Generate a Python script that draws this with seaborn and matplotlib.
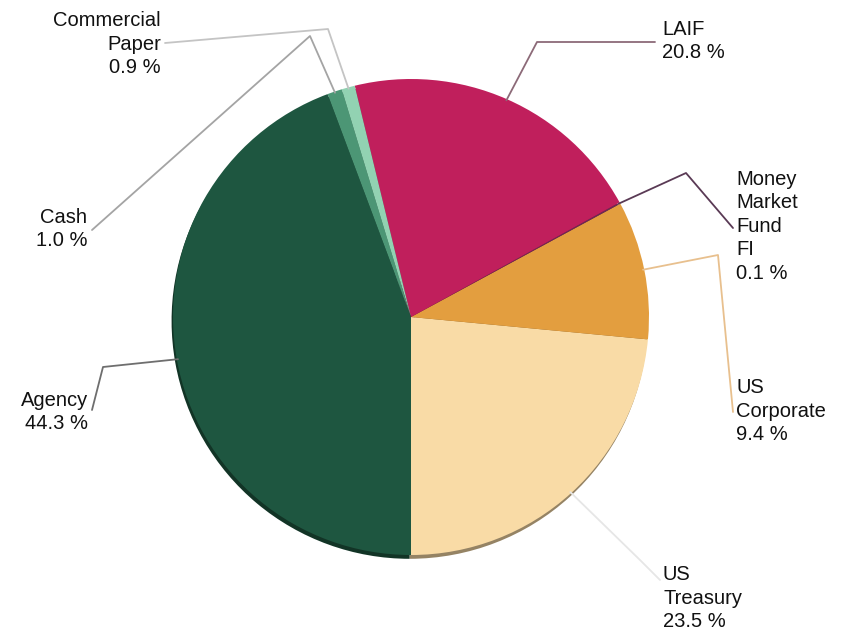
import numpy as np
import matplotlib
matplotlib.use("Agg")
import matplotlib.pyplot as plt
import matplotlib.colors as mcolors
import seaborn as sns

# Portfolio holdings by asset type (percent of total)
categories = ["US\nTreasury", "US\nCorporate", "Money\nMarket\nFund\nFI", "LAIF",
              "Commercial\nPaper", "Cash", "Agency"]
shares = [23.5, 9.4, 0.1, 20.8, 0.9, 1.0, 44.3]
colors = ["#f9dba6", "#e39e3f", "#6a2c55", "#c01f5c", "#92d2b2", "#4c9675", "#1e5640"]
line_colors = ["#e6e6e6", "#e8c08e", "#5a3a55", "#8c6a78", "#c4c4c4", "#a4a4a4", "#6e6e6e"]

# label anchor, elbow and text position in axes pixels (x right, y down)
PX = 238.0
CX, CY = 411.0, 317.0
elbows = [(640, 560), (718, 255), (686, 173), (537, 42), (328, 29), (310, 36), (103, 367)]
ends = [(660, 580), (733, 412), (733, 228), (655, 42), (165, 43), (92, 230), (92, 410)]
text_pos = [(663, 598), (736, 411), (736, 226), (662, 41), (161, 44), (87, 229), (88, 412)]
text_ha = ["left", "left", "left", "left", "right", "right", "right"]


def to_data(p):
    return ((p[0] - CX) / PX, (CY - p[1]) / PX)


sns.set_theme(style="white")
plt.rcParams["font.family"] = ["Liberation Sans", "DejaVu Sans"]

fig = plt.figure(figsize=(8.49, 6.34), dpi=100)
ax = fig.add_axes([0, 0, 1, 1])

# darker rim underneath to give the pie some depth
shade = [tuple(c * 0.6 for c in mcolors.to_rgb(col)) for col in colors]
ax.pie(shares, colors=shade, startangle=-90, counterclock=True,
       center=(-0.006, -0.016), radius=1.0, frame=True,
       wedgeprops=dict(linewidth=0))
wedges, _ = ax.pie(shares, colors=colors, startangle=-90, counterclock=True,
                   center=(0, 0), radius=1.0, frame=True,
                   wedgeprops=dict(linewidth=0))
ax.set_xlim(-CX / PX, (849 - CX) / PX)
ax.set_ylim(-(634 - CY) / PX, CY / PX)
ax.set_aspect("equal")
ax.axis("off")

for w, lab, val, lc, el, en, tp, ha in zip(wedges, categories, shares, line_colors,
                                            elbows, ends, text_pos, text_ha):
    mid = np.deg2rad((w.theta1 + w.theta2) / 2)
    start = (np.cos(mid) * 0.995, np.sin(mid) * 0.995)
    e = to_data(el)
    f = to_data(en)
    ax.plot([start[0], e[0], f[0]], [start[1], e[1], f[1]], color=lc, lw=1.3,
            solid_capstyle="round", zorder=3)
    t = to_data(tp)
    ax.text(t[0], t[1], f"{lab}\n{val:.1f} %", ha=ha, va="center",
            multialignment=ha, fontsize=14.5, color="#111111", linespacing=1.3)

fig.savefig("out.png", dpi=100)
